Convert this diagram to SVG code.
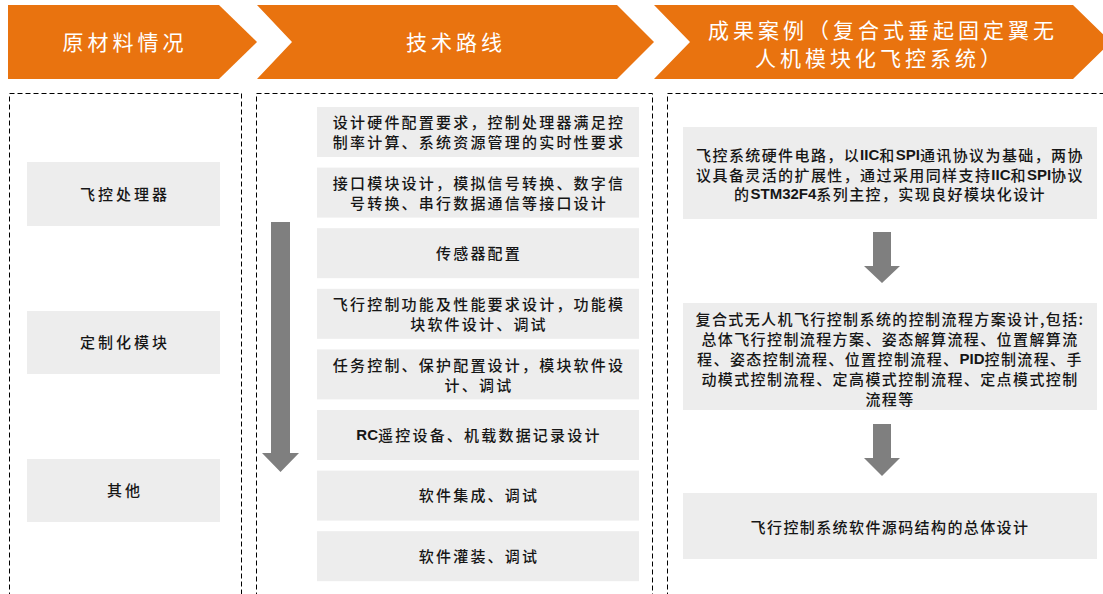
<svg xmlns="http://www.w3.org/2000/svg" width="1103" height="594" viewBox="0 0 1103 594">
<style>
.hdr{fill:#E9730F}
.hdrt{fill:#fff;font-family:"Noto Sans CJK SC",sans-serif;font-size:21px;letter-spacing:4px;text-anchor:middle;dominant-baseline:central}
.dash{fill:none;stroke:#000;stroke-width:1;stroke-dasharray:5 3}
.box{fill:#EDEDED}
.t{fill:#161616;font-family:"Noto Sans CJK SC",sans-serif;font-size:15px;font-weight:500;text-anchor:middle;dominant-baseline:central}
.tl{letter-spacing:3px}
.tm{letter-spacing:2.2px}
.tr{letter-spacing:1.4px}
.b{font-family:"Liberation Sans",Arial,sans-serif;font-weight:bold;letter-spacing:0}
.arr{fill:#7F7F7F}
</style>
<rect width="1103" height="594" fill="#fff"/>
<g id="headers">
<g id="h1"><polygon class="hdr" points="8,5 219,5 257,42 219,79 8,79"/><text class="hdrt" x="125" y="41">原材料情况</text></g>
<g id="h2"><polygon class="hdr" points="257,5 617,5 654,42 617,79 257,79 292,42"/><text class="hdrt" x="456" y="41">技术路线</text></g>
<g id="h3"><polygon class="hdr" points="654,5 1073,5 1111,42 1073,79 654,79 690,42"/><text class="hdrt" x="883" y="29">成果案例（复合式垂起固定翼无</text><text class="hdrt" x="880" y="57">人机模块化飞控系统）</text></g>
</g>
<g id="columns">
<rect class="dash" x="9.5" y="93.5" width="232" height="520"/>
<rect class="dash" x="256.5" y="93.5" width="396" height="520"/>
<rect class="dash" x="667.5" y="93.5" width="460" height="520"/>
</g>
<g id="left">
<g id="l1"><rect class="box" x="27" y="162" width="193" height="64"/><text class="t tl" x="125" y="193">飞控处理器</text></g>
<g id="l2"><rect class="box" x="27" y="311" width="193" height="63"/><text class="t tl" x="125" y="341">定制化模块</text></g>
<g id="l3"><rect class="box" x="27" y="459" width="193" height="63"/><text class="t tl" x="125" y="489">其他</text></g>
</g>
<g id="middle">
<g id="m1"><rect class="box" x="317" y="107" width="322" height="50"/><text class="t tm" x="479" y="121">设计硬件配置要求，控制处理器满足控</text><text class="t tm" x="479" y="141">制率计算、系统资源管理的实时性要求</text></g>
<g id="m2"><rect class="box" x="317" y="167.6" width="322" height="50"/><text class="t tm" x="479" y="182">接口模块设计，模拟信号转换、数字信</text><text class="t tm" x="479" y="202">号转换、串行数据通信等接口设计</text></g>
<g id="m3"><rect class="box" x="317" y="228.2" width="322" height="50"/><text class="t tm" x="479" y="252">传感器配置</text></g>
<g id="m4"><rect class="box" x="317" y="288.8" width="322" height="50"/><text class="t tm" x="479" y="303">飞行控制功能及性能要求设计，功能模</text><text class="t tm" x="479" y="323">块软件设计、调试</text></g>
<g id="m5"><rect class="box" x="317" y="349.4" width="322" height="50"/><text class="t tm" x="479" y="364">任务控制、保护配置设计，模块软件设</text><text class="t tm" x="479" y="384">计、调试</text></g>
<g id="m6"><rect class="box" x="317" y="410" width="322" height="50"/><text class="t tm" x="479" y="434"><tspan class="b">RC</tspan>遥控设备、机载数据记录设计</text></g>
<g id="m7"><rect class="box" x="317" y="470.6" width="322" height="50"/><text class="t tm" x="479" y="494">软件集成、调试</text></g>
<g id="m8"><rect class="box" x="317" y="531.2" width="322" height="50"/><text class="t tm" x="479" y="555">软件灌装、调试</text></g>
</g>
<g id="right">
<g id="r1"><rect class="box" x="683" y="127" width="414" height="92"/>
<text class="t tr" x="890" y="154">飞控系统硬件电路，以<tspan class="b">IIC</tspan>和<tspan class="b">SPI</tspan>通讯协议为基础，两协</text>
<text class="t tr" x="890" y="174">议具备灵活的扩展性，通过采用同样支持<tspan class="b">IIC</tspan>和<tspan class="b">SPI</tspan>协议</text>
<text class="t tr" x="890" y="193">的<tspan class="b">STM32F4</tspan>系列主控，实现良好模块化设计</text></g>
<g id="r2"><rect class="box" x="683" y="303" width="414" height="107"/>
<text class="t tr" x="890" y="318">复合式无人机飞行控制系统的控制流程方案设计,包括:</text>
<text class="t tr" x="890" y="338">总体飞行控制流程方案、姿态解算流程、位置解算流</text>
<text class="t tr" x="890" y="358">程、姿态控制流程、位置控制流程、<tspan class="b">PID</tspan>控制流程、手</text>
<text class="t tr" x="890" y="378">动模式控制流程、定高模式控制流程、定点模式控制</text>
<text class="t tr" x="890" y="398">流程等</text></g>
<g id="r3"><rect class="box" x="683" y="493" width="414" height="66"/><text class="t tr" x="890" y="526">飞行控制系统软件源码结构的总体设计</text></g>
</g>
<g id="connectors">
<polygon class="arr" points="271,222 290,222 290,453 299,453 280.5,472 262,453 271,453"/>
<polygon class="arr" points="873,232 891,232 891,266 900,266 882,283 864,266 873,266"/>
<polygon class="arr" points="873,424 891,424 891,458 900,458 882,476 864,458 873,458"/>
</g>
</svg>
